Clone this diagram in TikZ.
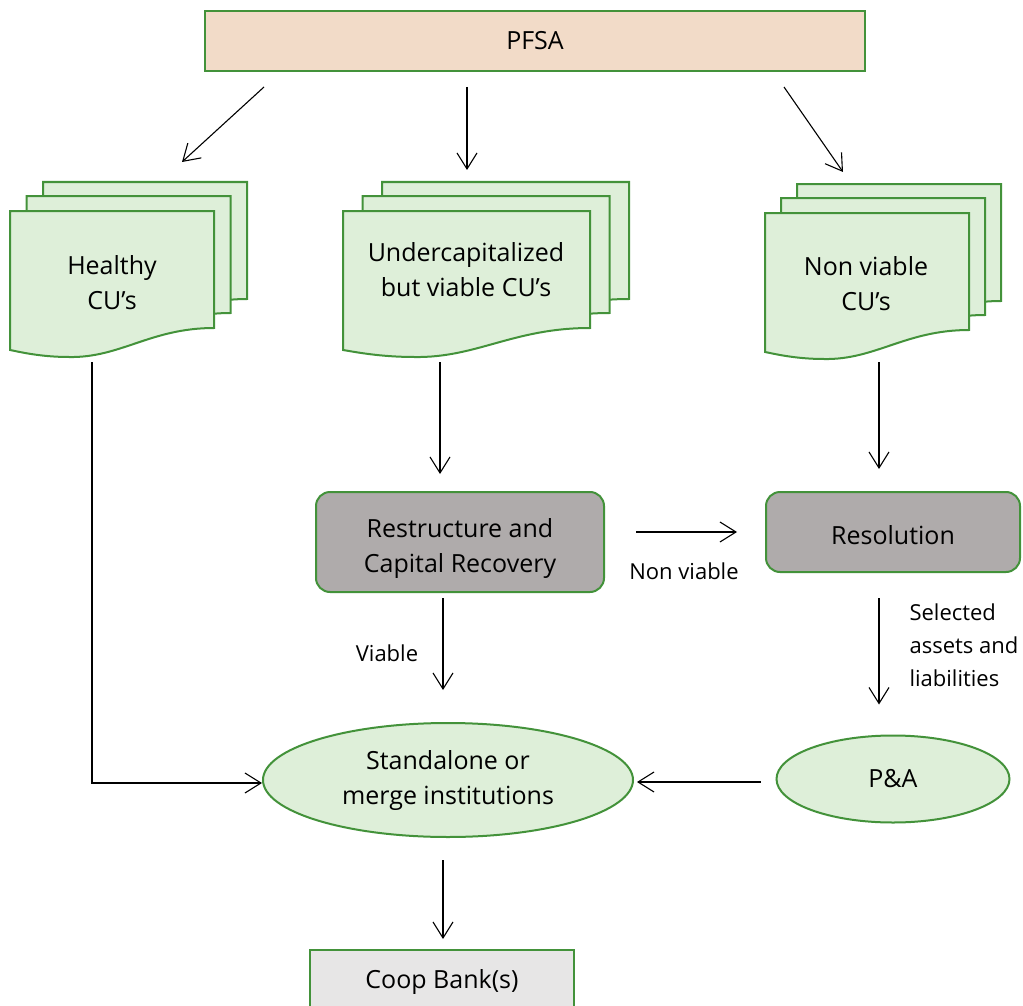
\documentclass[tikz,border=0pt]{standalone}
\usepackage{fontspec}
\setmainfont{Open Sans}
\usetikzlibrary{arrows.meta,positioning,shapes.geometric}

\definecolor{cuedge}{HTML}{43923A}
\definecolor{cufill}{HTML}{DEEFD9}
\definecolor{pfsafill}{HTML}{F2DBC8}
\definecolor{procfill}{HTML}{AFABAB}
\definecolor{bankfill}{HTML}{E7E6E6}

% one sheet of a stack: left x, top y, width, height of the right side
\newcommand{\cusheet}[4]{%
  \draw[sheet] ({#1},{-(#2)}) -- ({#1+#3},{-(#2)}) -- ({#1+#3},{-(#2)-#4})
    .. controls ({#1+0.69*#3},{-(#2)-#4}) and ({#1+0.54*#3},{-(#2)-#4-30}) .. ({#1+0.29*#3},{-(#2)-#4-29})
    .. controls ({#1+0.15*#3},{-(#2)-#4-29}) and ({#1+0.05*#3},{-(#2)-#4-24}) .. ({#1},{-(#2)-#4-22}) -- cycle;}
% three sheets: left x, top y, width, x step
\newcommand{\custack}[4]{%
  \cusheet{#1+2*#4}{#2-29}{#3}{117}
  \cusheet{#1+#4}{#2-15}{#3}{117}
  \cusheet{#1}{#2}{#3}{117}}

\begin{document}
\begin{tikzpicture}[x=1pt,y=1pt,font=\fontsize{25}{35}\selectfont,
    sheet/.style={draw=cuedge,fill=cufill,line width=2pt},
    box/.style={rectangle,draw=cuedge,line width=2pt,align=center},
    proc/.style={box,fill=procfill,rounded corners=14pt},
    oval/.style={ellipse,draw=cuedge,fill=cufill,line width=2pt,align=center},
    note/.style={font=\fontsize{22}{33}\selectfont,align=left},
    arr/.style={-{Straight Barb[length=16pt,width=20pt]},line width=1.1pt}]

    \useasboundingbox (0,0) rectangle (1023,-1006);

    \node[box,fill=pfsafill,minimum width=660pt,minimum height=60pt] (pfsa) at (535,-41) {PFSA};

    \custack{10}{211}{204}{16.5}
    \custack{343}{211}{247}{19.5}
    \custack{765}{213}{204}{16}

    \node[align=center] (healthy) at (112,-283) {Healthy\\CU’s};
    \node[align=center] (undercap) at (466,-270) {Undercapitalized\\but viable CU’s};
    \node[align=center] (nonviable) at (866,-284) {Non viable\\CU’s};

    \node[proc,minimum width=288pt,minimum height=100pt] (restruct) at (460,-542) {\rule{0pt}{31pt}Restructure and\\Capital Recovery};
    \node[proc,minimum width=254pt,minimum height=80pt] (resol) at (893,-532) {\rule{0pt}{25pt}Resolution};

    \node[oval,minimum width=370pt,minimum height=114pt] (merge) at (448,-780) {Standalone or\\merge institutions};
    \node[oval,minimum width=233pt,minimum height=87pt] (pa) at (893,-779) {P\&A};
    \node[box,fill=bankfill,minimum width=264pt,minimum height=64pt] (coop) at (442,-982) {Coop Bank(s)};

    \node[note] (nvlabel) at (684,-571) {Non viable};
    \node[note] (vlabel) at (387,-653) {Viable};
    \node[note,anchor=west] (sellabel) at (906,-645) {Selected\\assets and\\liabilities};

    \draw[arr] ([shift={(60,-15)}]pfsa.south west) -- ([shift={(70,121)}]healthy.center);
    \draw[arr] ([shift={(-68,-15)}]pfsa.south) -- ([shift={(1,100)}]undercap.center);
    \draw[arr] ([shift={(-82,-15)}]pfsa.south east) -- ([shift={(-23,112)}]nonviable.center);

    \draw[arr] ([shift={(-20,-79)}]healthy.center) |- ([yshift=-3pt]merge.west);
    \draw[arr] ([shift={(-26,-92)}]undercap.center) -- ([shift={(-20,17)}]restruct.north);
    \draw[arr] ([shift={(13,-78)}]nonviable.center) -- ([shift={(-14,22)}]resol.north);

    \draw[arr] ([shift={(31,10)}]restruct.east) -- ([xshift=-28pt]resol.west);
    \draw[arr] ([shift={(-17,-5)}]restruct.south) -- ([shift={(-5,32)}]merge.north);
    \draw[arr] ([shift={(-14,-25)}]resol.south) -- ([shift={(-14,30)}]pa.north);
    \draw[arr] ([shift={(-15,-3)}]pa.west) -- ([shift={(3,-2)}]merge.east);
    \draw[arr] ([shift={(-5,-22)}]merge.south) -- ([shift={(1,10)}]coop.north);
\end{tikzpicture}
\end{document}
